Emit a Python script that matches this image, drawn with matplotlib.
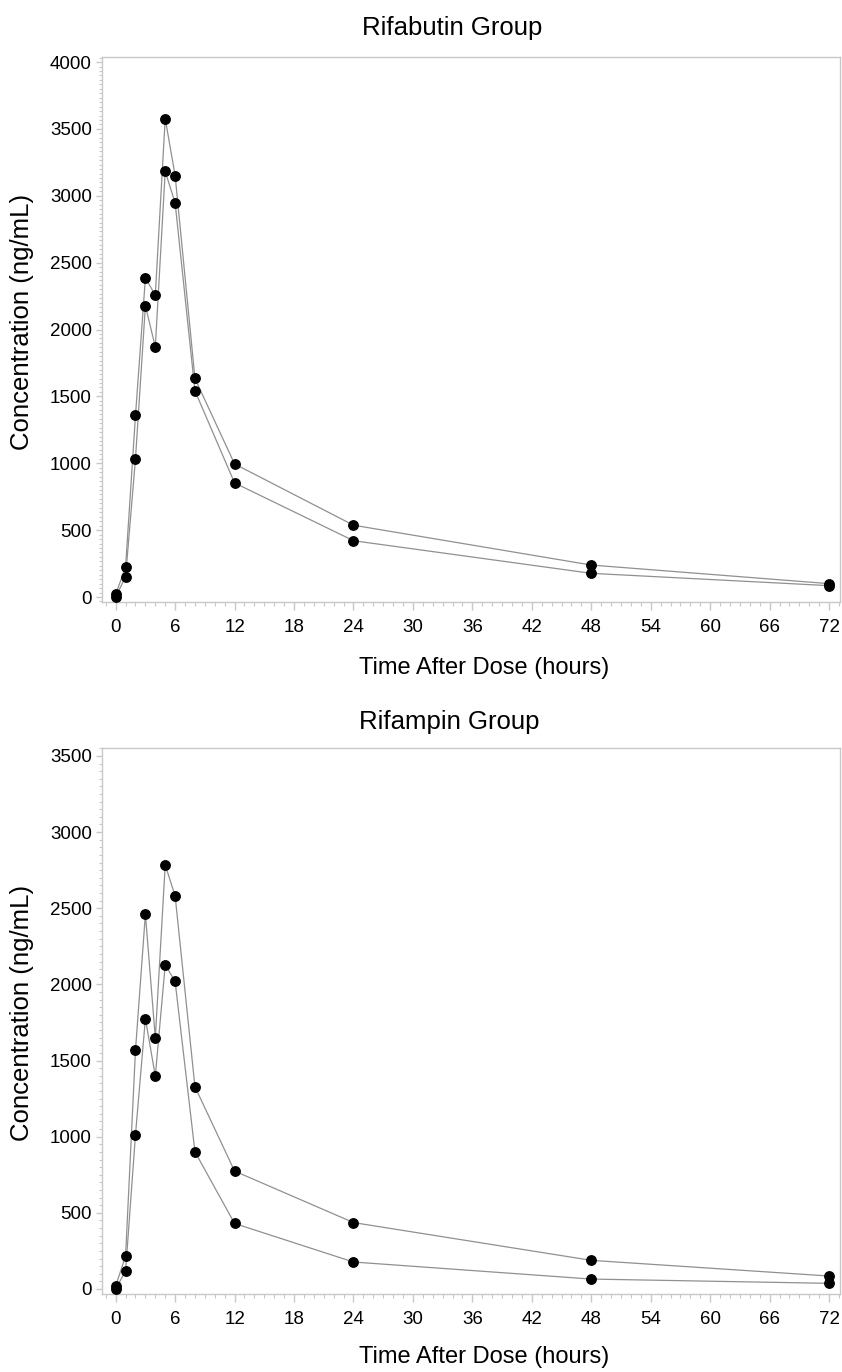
import matplotlib
matplotlib.use("Agg")
import matplotlib.pyplot as plt
from matplotlib.ticker import MultipleLocator, FixedLocator

plt.rcParams['font.family'] = ['Liberation Sans', 'DejaVu Sans']

# ---- data ----
time_h = [0, 1, 2, 3, 4, 5, 6, 8, 12, 24, 48, 72]
rifabutin_subj1 = [20, 224, 1358, 2385, 2258, 3577, 3151, 1634, 995, 537, 239, 100]
rifabutin_subj2 = [0, 152, 1035, 2178, 1870, 3183, 2947, 1542, 853, 421, 177, 85]
rifampin_subj1 = [20, 216, 1568, 2461, 1648, 2784, 2581, 1328, 774, 436, 188, 85]
rifampin_subj2 = [0, 118, 1014, 1775, 1398, 2128, 2019, 901, 430, 177, 65, 37]
x_ticks = [0, 6, 12, 18, 24, 30, 36, 42, 48, 54, 60, 66, 72]
titles = ["Rifabutin Group", "Rifampin Group"]
x_label = "Time After Dose (hours)"
y_label = "Concentration (ng/mL)"

W, H = 842, 1372
fig = plt.figure(figsize=(W / 100, H / 100), dpi=100)

def fx(px):
    return px / W

def fy(py):
    return 1 - py / H

panels = [
    dict(top=56.7, bottom=602.5, ylim=(-41, 4040), yticks=list(range(0, 4001, 500)),
         yminor=500 / 15, title_y=28, xlabel_y=668,
         s1=rifabutin_subj1, s2=rifabutin_subj2, title=titles[0], title_x=452),
    dict(top=748.3, bottom=1294, ylim=(-33, 3550), yticks=list(range(0, 3501, 500)),
         yminor=50, title_y=722, xlabel_y=1357,
         s1=rifampin_subj1, s2=rifampin_subj2, title=titles[1], title_x=449),
]

left_px, right_px = 101.7, 840
spine_col = "#c8c8c8"
line_col = "#909090"

for p in panels:
    ax = fig.add_axes([fx(left_px), fy(p['bottom']), fx(right_px - left_px),
                       (p['bottom'] - p['top']) / H])
    for s in (p['s1'], p['s2']):
        ax.plot(time_h, s, color=line_col, lw=0.9, zorder=2)
        ax.plot(time_h, s, ls='none', marker='o', ms=6.8, mfc='black', mec='black', zorder=3)
    ax.set_xlim(-1.41, 73.1)
    ax.set_ylim(*p['ylim'])
    ax.xaxis.set_major_locator(FixedLocator(x_ticks))
    ax.xaxis.set_minor_locator(MultipleLocator(1))
    ax.yaxis.set_major_locator(FixedLocator(p['yticks']))
    ax.yaxis.set_minor_locator(MultipleLocator(p['yminor']))
    for sp in ax.spines.values():
        sp.set_color(spine_col)
        sp.set_linewidth(1.0)
    ax.tick_params(axis='both', which='major', colors=spine_col, labelcolor='black',
                   labelsize=13.5, length=6, width=1.0)
    ax.tick_params(axis='both', which='minor', colors=spine_col, length=3, width=0.8)
    ax.tick_params(axis='x', which='major', pad=6)
    ax.tick_params(axis='y', which='major', pad=3, length=4)
    ax.tick_params(axis='y', which='minor', length=2)
    fig.text(fx(p['title_x']), fy(p['title_y']), p['title'], ha='center', va='center',
             fontsize=18.5)
    fig.text(fx(484), fy(p['xlabel_y']), x_label, ha='center', va='center', fontsize=17)
    fig.text(fx(22), fy((p['top'] + p['bottom']) / 2 - 8), y_label, ha='center', va='center',
             rotation=90, fontsize=18.5)

fig.savefig("out.png", dpi=100, facecolor='white')
